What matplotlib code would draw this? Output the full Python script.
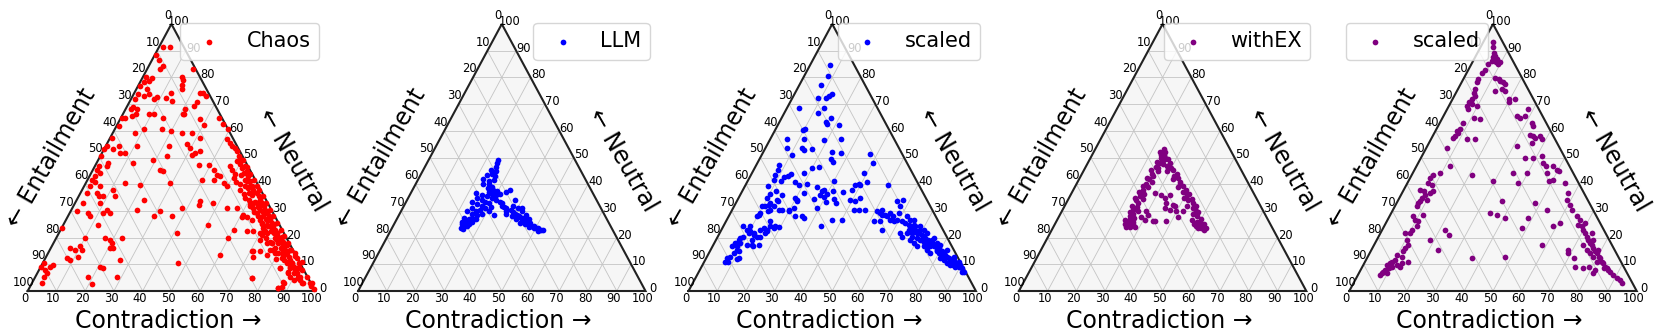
import numpy as np
import matplotlib
matplotlib.use("Agg")
import matplotlib.pyplot as plt

# ---------------- data: (contradiction %, neutral %) ; entailment = 100 - c - n
chaos_points = [
    (1.5,91.5),(3.8,91.5),(0.3,88.5),(2.6,86.5),(5.0,84.3),(4.5,83.1),(15.8,83.3),(13.8,80.0),(14.6,79.1),(15.0,77.1),
    (15.8,75.6),(1.0,80.3),(2.9,78.7),(3.4,79.6),(1.3,78.1),(0.8,76.6),(3.6,75.6),(1.6,73.9),(3.8,73.1),(5.2,73.7),
    (8.1,71.8),(8.6,72.7),(11.9,72.2),(12.7,74.3),(14.5,71.2),(22.9,74.3),(24.0,74.3),(25.4,73.1),(23.5,70.6),(23.1,69.3),
    (20.7,68.3),(20.8,66.2),(1.5,71.8),(2.0,68.0),(2.3,69.0),(3.9,68.0),(3.5,65.4),(1.5,64.9),(4.5,66.2),(9.2,66.2),
    (10.9,66.2),(14.8,64.9),(21.4,66.2),(27.9,64.3),(30.4,62.0),(34.0,64.9),(36.7,62.4),(39.6,60.5),(40.9,56.8),(42.5,55.5),
    (43.9,54.3),(45.4,53.6),(46.5,52.4),(48.1,50.5),(49.2,49.5),(48.4,48.6),(50.2,47.4),(51.5,46.1),(52.3,46.7),(53.8,44.9),
    (53.0,44.2),(55.3,43.0),(56.9,41.1),(58.4,39.2),(59.5,38.0),(61.4,36.7),(62.6,35.5),(63.8,34.2),(64.9,33.0),(66.2,31.7),
    (67.4,30.5),(68.6,29.2),(69.8,28.0),(71.0,26.7),(72.2,25.4),(73.4,24.2),(74.7,22.9),(75.9,21.7),(77.0,20.4),(78.2,19.2),
    (79.5,17.9),(80.7,16.7),(81.9,15.4),(83.0,14.2),(84.3,12.9),(85.5,11.7),(86.7,10.4),(88.0,9.1),(89.1,7.9),(90.3,6.6),
    (91.5,5.4),(92.8,4.1),(94.0,2.9),(97.5,2.0),(99.3,0.6),(96.9,2.9),(90.0,8.5),(86.8,9.1),
    (55.7,41.1),(57.8,39.2),(59.9,37.3),(58.5,36.7),(56.0,39.2),(60.1,39.2),(62.0,33.0),(61.6,31.7),(65.7,30.5),(65.1,29.2),
    (68.0,28.0),(69.9,26.7),(72.2,24.2),(70.6,22.9),(72.4,21.7),(74.7,21.7),(77.1,19.2),(76.0,17.9),(79.0,14.2),(81.3,14.2),
    (83.2,11.7),(84.9,10.4),(89.2,6.6),(88.6,5.4),(92.1,5.4),(94.5,2.9),(90.5,4.1),(87.6,1.6),(86.7,1.0),(87.6,2.9),
    (47.0,47.0),(48.5,45.5),(50.0,44.0),(50.5,42.5),(52.0,41.0),(54.0,40.0),(55.0,38.0),(57.0,36.5),(58.0,35.0),(60.0,34.0),
    (61.0,32.5),(63.0,31.0),(64.0,29.5),(66.0,28.0),(67.5,26.5),(69.0,25.0),(70.0,23.5),(52.5,43.5),(55.0,41.5),(57.5,38.5),
    (60.0,36.0),(62.5,33.5),(64.5,31.5),(67.0,29.5),(69.5,27.0),(71.5,24.5),(73.5,22.5),(76.0,20.0),(78.0,18.0),(80.0,16.0),
    (82.5,13.5),(85.0,11.0),(87.0,8.5),(75.0,18.5),(73.0,20.0),(71.0,21.0),(77.5,15.5),(80.5,12.0),
    (50.5,49.0),(53.0,46.5),(55.5,44.0),(58.0,41.5),(61.5,38.0),(64.0,35.5),(66.5,33.0),(69.0,30.5),(71.5,28.0),(74.0,25.5),
    (76.5,23.0),(79.0,20.5),(81.5,18.0),(84.0,15.5),(86.5,13.0),(89.0,10.5),(91.5,8.0),
    (60.7,28.6),(62.2,27.9),(64.6,26.7),(67.4,22.3),(71.5,22.3),(70.0,21.7),(76.6,15.4),(78.0,16.1),(76.0,17.9),(71.1,14.8),
    (83.5,8.5),(87.0,7.3),(91.8,4.8),(87.2,3.5),(86.7,1.0),(75.5,4.8),(63.2,33.0),(65.0,31.7),(60.5,27.9),(68.7,25.4),
    (70.8,24.8),(73.4,24.2),(75.8,21.7),(78.2,20.4),(79.7,18.5),(81.5,17.3),(83.6,15.4),(85.9,14.2),(87.5,12.3),(89.8,11.0),
    (77.8,15.4),(80.1,14.2),(82.3,12.3),(86.7,10.4),(89.7,9.1),(94.4,5.4),(97.4,2.9),(71.2,19.2),(74.3,17.9),(73.5,15.0),
    (65.1,22.3),
    (24.0,59.3),(27.5,59.3),(31.3,57.4),(27.9,54.9),(29.7,53.6),(32.3,51.8),(33.8,52.4),(31.6,51.1),(35.9,47.1),(39.4,47.1),
    (39.8,41.7),(41.9,45.5),(44.0,43.6),(45.4,43.0),(43.8,41.7),(47.9,40.5),(49.7,39.2),(43.2,33.6),(43.3,32.3),(48.1,33.0),
    (53.8,31.1),(57.2,31.1),(50.5,24.8),(60.2,22.9),(59.9,19.8),(60.2,13.5),(70.6,14.8),(76.5,13.5),(72.1,12.9),(75.6,4.8),
    (83.6,8.5),(87.4,6.6),(16.4,60.5),(19.8,60.0),(21.9,54.3),(23.2,50.5),(19.1,49.2),(23.4,45.5),(24.8,44.9),(29.3,40.5),
    (19.2,39.8),(13.7,40.5),(23.2,34.2),(22.7,30.5),(31.2,29.8),(36.1,28.0),(38.1,31.1),(30.0,28.0),(41.1,21.7),(47.2,10.4),
    (0.3,64.9),(0.7,61.8),(7.8,59.3),(10.1,60.5),(0.5,57.4),(4.5,54.3),(3.3,53.0),(6.2,51.8),(8.0,51.8),(10.8,54.3),
    (12.8,48.0),(0.4,54.3),(0.2,53.0),(0.3,50.5),(4.1,48.0),(4.2,46.7),(1.3,46.7),(1.3,45.5),(3.1,44.2),(1.9,43.0),
    (1.5,41.7),(3.1,40.7),(2.1,39.2),(5.6,39.2),(5.7,36.7),(6.9,35.5),(8.6,35.5),(2.2,36.7),(10.8,38.0),(12.7,35.5),
    (2.9,33.0),(8.7,33.0),(12.3,30.5),(11.7,29.2),(14.1,29.2),(2.2,29.8),(6.5,29.2),(7.7,28.0),(12.2,24.8),(0.2,23.6),
    (10.1,19.8),(17.0,19.8),(19.1,19.2),(20.3,17.9),(22.8,19.8),(20.7,16.0),(21.8,16.0),(6.7,16.0),(8.8,15.4),(9.9,16.7),
    (11.1,15.4),(7.5,12.3),(8.9,11.7),(11.2,12.9),(4.0,9.8),(3.3,9.1),(0.3,10.4),(0.1,9.1),(2.1,7.9),(3.3,6.6),
    (2.8,5.4),(3.5,2.9),(22.1,8.5),(28.3,5.4),(26.3,11.7),(18.4,5.4),(21.1,2.5),(20.7,9.1),
]

llm_points = [
    (24.0,49.2),(24.5,48.0),(24.8,46.5),(23.5,45.5),(25.5,45.0),(24.5,44.0),(23.1,43.6),(26.0,43.0),(24.9,41.1),(26.5,41.5),
    (25.5,40.0),(27.2,39.1),(26.0,38.5),(28.0,38.0),(27.0,37.0),(28.5,36.5),(29.5,37.5),(22.5,42.0),(23.5,40.0),(27.0,35.5),
    (29.0,35.0),(30.0,36.0),(31.0,36.5),(34.0,38.0),(33.0,37.0),
    (22.5,36.7),(24.0,35.0),(25.0,36.0),(26.0,34.0),(27.5,33.5),(29.0,33.0),(31.0,34.0),(32.5,33.5),(33.6,33.0),(23.0,33.5),
    (25.0,32.5),(27.0,32.0),(28.5,31.0),(30.5,31.5),(32.9,28.6),(30.5,30.0),(24.0,31.0),(26.0,30.0),(27.3,30.5),(28.5,29.0),
    (25.0,29.0),(23.0,30.0),(27.0,28.5),(26.0,27.5),(25.0,27.0),(24.0,26.5),(23.0,27.5),(24.5,25.5),(23.5,25.0),(24.3,24.2),
    (25.5,24.5),(26.5,26.0),(23.0,26.0),(24.0,23.5),(25.0,23.2),(26.0,25.0),(27.5,27.0),
    (34.0,32.0),(35.0,31.5),(36.0,31.0),(37.6,34.2),(36.5,30.0),(38.0,30.5),(39.0,29.5),(40.0,29.0),(41.0,28.5),(42.0,28.0),
    (43.0,27.5),(44.0,26.5),(45.0,26.5),(46.0,25.5),(47.0,25.5),(48.0,24.5),(49.0,24.5),(50.0,23.5),(51.0,23.5),(52.0,23.0),
    (52.8,22.9),(51.5,22.5),(49.5,23.5),(47.5,24.0),(45.5,25.0),(43.5,25.5),(41.5,27.0),(39.5,28.0),(38.0,32.0),(40.0,31.0),
    (42.0,30.0),(37.0,29.0),(44.0,28.5),(46.0,27.0),(41.5,31.1),(43.4,27.3),
]

scaled_llm_points = [
    (7.0,84.7),(8.2,80.6),(7.6,77.2),(13.1,73.7),(12.2,73.1),(11.8,72.1),(8.9,72.2),(12.7,68.7),(4.4,68.4),(11.8,66.5),
    (17.1,64.9),(16.2,63.3),(16.9,62.4),(21.4,62.0),(10.2,60.5),(9.6,60.3),(11.8,57.0),(5.8,56.8),(7.4,53.6),(12.6,53.6),
    (13.9,52.8),(16.4,53.0),(10.5,51.1),(19.1,56.4),(24.6,57.0),(23.9,52.1),(27.2,51.8),(24.7,49.6),(26.0,48.4),(37.5,51.4),
    (40.2,48.0),(22.0,46.5),(19.9,46.1),(18.2,44.2),(13.1,43.0),(8.1,47.1),(8.3,45.5),(8.4,43.6),(9.0,41.7),(11.6,41.1),
    (12.0,42.7),(13.6,44.0),(16.8,40.7),(21.1,40.2),(18.7,39.8),(22.0,36.7),(19.7,34.8),(20.6,34.2),(26.3,34.5),(27.8,37.3),
    (25.3,38.8),(28.0,38.0),(29.9,36.5),(27.8,36.1),(29.7,35.1),(30.2,41.1),(31.6,37.3),(31.2,33.2),(29.2,31.1),(33.3,34.5),
    (34.9,33.0),(35.4,37.0),(37.9,38.0),(38.0,39.6),(39.2,40.0),(39.9,39.7),(38.8,44.2),(41.8,40.7),(42.3,34.8),(44.3,30.2),
    (39.2,34.2),(41.2,33.6),(42.6,30.2),(46.4,30.2),(40.1,26.7),(33.9,24.4),(36.6,26.7),(26.4,27.3),(23.1,28.0),(19.7,30.2),
    (8.2,39.2),(10.2,36.5),(9.9,34.8),(11.8,37.4),(10.9,31.7),(10.2,29.4),(9.8,28.0),(11.9,33.0),(13.8,31.7),(12.9,29.8),
    (16.1,30.5),(13.6,34.2),(14.5,36.1),(14.5,33.6),
    (15.4,26.1),(18.1,24.2),(19.4,23.9),(14.3,23.6),(15.9,22.9),(13.5,22.9),(9.4,24.2),(8.9,22.9),(10.1,21.7),(12.1,21.1),
    (8.9,20.4),(13.6,20.4),(12.4,19.2),(14.8,20.2),(7.8,19.2),(9.1,17.9),(8.5,16.7),(6.8,16.7),(8.6,14.2),(10.0,14.8),
    (11.7,17.3),(13.4,17.3),(15.8,17.3),(11.3,12.3),(7.2,12.3),(8.4,11.0),(7.3,11.0),(8.1,12.9),(10.9,11.9),(7.3,17.9),
    (9.1,15.4),(8.1,19.8),(7.0,24.2),(10.4,22.3),(11.8,21.7),(14.1,16.7),(16.2,22.3),(16.3,24.2),(17.8,23.6),(15.9,21.7),
    (9.7,31.7),(11.7,32.3),(13.2,30.5),(10.1,28.6),(17.3,30.5),(19.9,29.8),(21.0,31.1),(25.4,28.0),(20.9,33.6),
    (49.6,39.6),(55.7,33.6),(57.6,34.0),(57.9,31.7),(55.6,29.2),(53.0,28.6),(53.7,26.1),(51.4,26.1),(55.9,22.9),(55.0,28.0),
    (57.3,28.0),(59.2,26.7),(61.2,26.1),(62.0,28.0),(63.8,26.7),(66.8,24.2),(65.2,22.9),(62.9,21.7),(64.1,20.2),(67.5,20.4),
    (68.7,21.7),(71.0,19.2),(71.6,20.4),(74.0,17.9),(77.0,16.7),(77.0,14.2),(79.9,14.2),(81.5,12.3),(82.9,11.7),(84.7,10.4),
    (86.2,9.8),(87.3,9.8),(88.2,10.4),(90.0,9.1),(91.5,7.3),(85.8,12.9),(83.5,12.9),(78.7,15.4),(75.2,15.4),(73.5,16.7),
    (71.2,16.7),(69.4,17.9),(67.5,19.2),(65.2,21.7),(70.4,22.9),(65.0,26.7),(69.2,22.9),(75.1,19.2),(77.5,17.9),(81.6,14.2),
    (85.3,11.7),(88.5,11.0),
    (62.7,25.4),(64.2,24.8),(65.9,23.6),(67.5,22.9),(69.2,21.7),(70.7,21.1),(72.5,19.8),(73.9,19.2),(75.8,17.9),(77.5,16.7),
    (79.0,16.0),(80.8,14.8),(82.6,13.5),(84.4,12.3),(86.1,11.0),(87.6,10.4),(89.5,9.1),(66.0,22.3),(69.6,19.8),(72.6,18.5),
    (75.8,16.7),(79.0,14.8),(82.3,12.9),(85.9,10.4),(65.9,24.8),(68.5,24.2),(72.1,21.7),(75.4,19.8),(79.0,17.3),(82.2,15.4),
    (86.4,11.7),(89.6,9.8),(90.9,8.5),(66.9,21.7),(74.3,17.3),(81.8,12.9),(85.3,10.4),(88.3,9.1),(92.1,7.3),
    (50.6,29.8),(52.1,29.2),(54.1,28.6),(56.9,26.7),(58.3,26.1),(58.5,29.2),(52.1,30.5),
]

withex_points = [
    (24.0,53.0),(24.8,52.0),(23.8,51.0),(25.3,50.5),(24.3,50.0),(25.8,49.0),(23.8,48.5),(24.8,48.0),(26.3,47.5),(24.3,46.5),
    (25.3,46.0),(23.3,45.5),(25.8,45.0),(24.3,44.0),(25.3,43.0),(23.3,42.5),(24.3,42.0),(25.8,41.0),(24.3,40.0),(23.3,39.5),
    (25.3,39.0),(24.3,38.0),(23.3,37.0),(25.3,36.5),(24.3,35.5),(23.0,35.0),(25.8,34.5),(23.8,34.0),(24.8,33.0),(23.3,32.0),
    (25.3,31.5),(24.3,30.5),(26.3,30.0),(23.8,29.5),(25.3,29.0),(24.8,28.0),(26.3,27.5),(25.3,27.0),(23.8,26.5),(26.8,26.0),
    (25.3,25.5),(24.3,25.0),(26.3,24.5),(25.3,24.0),(26.8,24.0),(27.3,25.0),(28.3,24.0),
    (23.0,52.0),(26.0,50.0),(25.5,49.0),(28.5,48.0),(28.0,47.0),(30.0,46.0),(29.0,45.0),(33.0,44.0),(32.5,43.0),(32.5,42.0),
    (35.5,41.0),(36.0,40.0),(36.0,39.0),(39.0,38.0),(38.5,37.0),(40.5,36.0),(40.0,35.0),(42.0,34.0),(44.0,33.0),(42.5,32.0),
    (45.0,31.0),(46.5,30.0),(46.0,29.0),(48.0,28.0),(50.0,27.0),(49.0,26.0),(51.0,25.0),(52.5,24.0),(51.5,23.5),(53.0,23.0),
    (49.5,24.5),(47.0,26.5),(27.0,49.5),(31.0,45.5),(34.0,42.5),(37.5,39.5),(41.0,36.5),(43.0,34.5),(45.5,32.0),(47.5,29.5),
    (50.0,26.0),(52.0,25.0),(53.5,23.5),(50.5,23.5),(48.5,25.0),(25.0,51.0),(26.0,49.5),
    (28.9,36.7),(31.5,36.1),(33.3,34.8),(34.4,36.1),(34.8,33.0),(35.2,31.1),(37.2,30.5),(38.4,31.7),(39.9,29.8),(41.4,27.9),
    (37.5,32.3),(29.4,29.8),(28.6,27.9),(30.4,26.7),(30.6,28.6),(34.2,26.1),(38.2,26.3),(42.2,29.8),(33.6,26.1),
]

scaled_withex_points = [
    (3.6,93.1),(4.3,91.2),(5.8,89.3),(6.4,87.5),(6.7,88.1),(7.9,86.8),(6.4,86.2),(8.3,85.6),(9.4,85.0),(9.6,85.6),
    (5.9,85.0),(5.9,82.7),(5.2,81.8),(5.3,79.3),(5.3,78.1),(5.9,75.6),(6.1,74.3),(7.2,73.1),(6.7,71.8),(6.5,70.6),
    (6.2,69.3),(7.4,68.0),(7.7,69.9),(9.7,69.3),(13.4,64.3),(10.8,64.9),(8.2,63.0),(8.3,60.5),(7.5,59.9),(7.8,58.0),
    (7.5,57.4),(8.3,59.3),(12.4,56.8),(15.3,56.8),(7.1,53.6),(11.7,46.7),(9.5,44.2),(7.4,43.6),(6.9,42.4),(7.3,40.5),
    (8.8,39.8),(5.6,38.0),(7.2,37.3),(8.3,36.1),(7.8,34.8),(9.8,34.2),(9.8,36.7),(10.6,37.3),(7.8,33.6),(7.5,33.0),
    (20.8,43.6),(29.6,41.1),
    (10.8,79.9),(12.3,79.3),(13.1,78.7),(14.4,78.1),(15.5,77.4),(15.2,75.6),(13.3,74.9),(16.8,74.9),(19.5,71.8),(21.8,71.8),
    (20.1,70.6),(25.5,65.4),(27.0,64.9),(28.5,65.4),(28.3,68.0),(32.0,63.0),(33.1,61.8),(33.6,58.6),(35.0,58.0),(35.8,55.5),
    (35.9,57.4),(37.4,58.0),(38.5,56.8),(31.1,54.3),(36.3,49.9),(39.1,49.9),(41.7,50.5),(43.5,48.0),(45.1,46.7),(47.7,46.7),
    (49.5,45.5),(50.4,44.9),(46.6,44.2),(50.2,41.7),(48.8,41.1),(54.9,40.5),(57.9,36.7),(58.5,34.2),(60.7,32.3),(35.0,44.2),
    (39.6,44.2),(38.6,40.5),(48.1,33.0),(53.5,30.5),(48.7,27.3),(48.2,23.6),(58.9,24.2),(60.6,25.4),(58.3,17.3),(36.2,33.6),
    (34.4,29.2),(37.0,28.6),(40.6,27.3),(36.5,12.3),(47.8,12.9),(24.0,21.1),(21.9,22.9),(18.5,19.2),(23.3,15.4),
    (62.2,30.5),(65.1,28.0),(67.0,26.7),(67.3,24.8),(68.8,24.2),(70.0,22.9),(71.2,21.7),(72.4,20.4),(73.6,19.2),(74.9,17.9),
    (75.8,17.3),(76.9,16.0),(78.1,14.8),(79.0,14.2),(80.3,12.9),(81.2,12.3),(82.3,11.0),(83.2,10.4),(84.5,9.1),(85.4,8.5),
    (86.2,7.9),(87.1,7.3),(88.9,6.0),(90.6,4.8),(92.2,4.1),(93.3,3.1),(76.7,14.2),(74.9,15.4),(72.8,17.3),(78.5,12.9),
    (80.6,11.0),(84.2,8.5),(68.5,15.4),(69.1,14.2),(71.9,12.3),(74.0,9.1),(77.2,8.5),(78.7,9.1),(81.6,6.6),(81.6,7.9),
    (75.3,19.2),(79.0,15.4),(73.6,21.7),(69.3,25.4),
    (7.6,31.7),(8.3,28.0),(9.6,26.7),(11.0,26.1),(11.5,28.6),(10.3,22.9),(11.3,24.2),(10.3,21.7),(8.6,21.7),(10.4,19.2),
    (11.9,17.3),(11.4,16.0),(11.4,14.8),(11.8,12.9),(9.8,13.5),(10.1,11.7),(9.2,11.0),(9.0,10.4),(8.1,9.8),(9.4,8.5),
    (8.5,7.9),(8.2,7.3),(8.0,6.6),(7.7,6.0),(10.2,9.1),(11.6,9.8),(13.1,9.1),(15.0,11.0),(13.0,10.4),(9.7,6.6),
]

panel_names = ["Chaos", "LLM", "scaled", "withEX", "scaled"]
panel_points = [chaos_points, llm_points, scaled_llm_points, withex_points, scaled_withex_points]
panel_colors = ["red", "blue", "blue", "purple", "purple"]
legend_sides = ["right", "right", "right", "right", "left"]
tick_values = list(range(0, 101, 10))

# ---------------- drawing
SQ = np.sqrt(3) / 2
W, H = 1661, 332


def proj(c, n):
    c = np.asarray(c, dtype=float)
    n = np.asarray(n, dtype=float)
    return c + n / 2.0, n * SQ


fig = plt.figure(figsize=(W / 100, H / 100), dpi=100)

for k in range(5):
    x0 = 27.7 + 330.4 * k
    tri_w, tri_h, base_y = 287.4, 267.0, 291.0
    ax = fig.add_axes([x0 / W, (H - base_y) / H, tri_w / W, tri_h / H])
    ax.set_xlim(0, 100)
    ax.set_ylim(0, 100 * SQ)
    ax.axis("off")

    ax.fill([0, 100, 50], [0, 0, 100 * SQ], color="#f6f6f6", lw=0, zorder=0)
    for i in range(10, 100, 10):
        for c1, n1, c2, n2 in [(0, i, 100 - i, i), (i, 0, i, 100 - i), (100 - i, 0, 0, 100 - i)]:
            xs, ys = proj([c1, c2], [n1, n2])
            ax.plot(xs, ys, color="#c4c4c4", lw=0.6, zorder=1)
    ax.plot([0, 100, 50, 0], [0, 0, 100 * SQ, 0], color="#222222", lw=1.5, zorder=3,
            solid_joinstyle="miter", clip_on=False)

    pts = np.array(panel_points[k])
    x, y = proj(pts[:, 0], pts[:, 1])
    ax.scatter(x, y, s=17, color=panel_colors[k], linewidths=0, zorder=4, clip_on=False,
               label=panel_names[k])

    for v in tick_values:
        bx, by = proj(v, 0)
        ax.annotate(str(v), (bx, by), xytext=(-3, -7), textcoords="offset pixels",
                    ha="center", va="center", fontsize=8.3, annotation_clip=False)
        rx, ry = proj(100 - v, v)
        ax.annotate(str(v), (rx, ry), xytext=(7.5, 2.5), textcoords="offset pixels",
                    ha="center", va="center", fontsize=8.3, annotation_clip=False)
        lx, ly = proj(0, 100 - v)
        ax.annotate(str(v), (lx, ly), xytext=(-4, 8.5), textcoords="offset pixels",
                    ha="center", va="center", fontsize=8.3, annotation_clip=False)

    fig.text((x0 + 140.3) / W, 1 - 321.0 / H, "Contradiction →", ha="center", va="center",
             fontsize=17)
    fig.text((x0 + 23.0) / W, 1 - 158.0 / H, "← Entailment", ha="center", va="center",
             fontsize=17, rotation=60, rotation_mode="anchor")
    fig.text((x0 + 265.0) / W, 1 - 160.0 / H, "← Neutral", ha="center", va="center",
             fontsize=17, rotation=-60, rotation_mode="anchor")

    if legend_sides[k] == "right":
        ax.legend(loc="upper right", bbox_to_anchor=((x0 + 291.5) / W, 1 - 23 / H),
                  bbox_transform=fig.transFigure, borderaxespad=0, fontsize=15, scatterpoints=1)
    else:
        ax.legend(loc="upper left", bbox_to_anchor=((x0 - 3.6) / W, 1 - 23 / H),
                  bbox_transform=fig.transFigure, borderaxespad=0, fontsize=15, scatterpoints=1)

fig.savefig("out.png", dpi=100)
